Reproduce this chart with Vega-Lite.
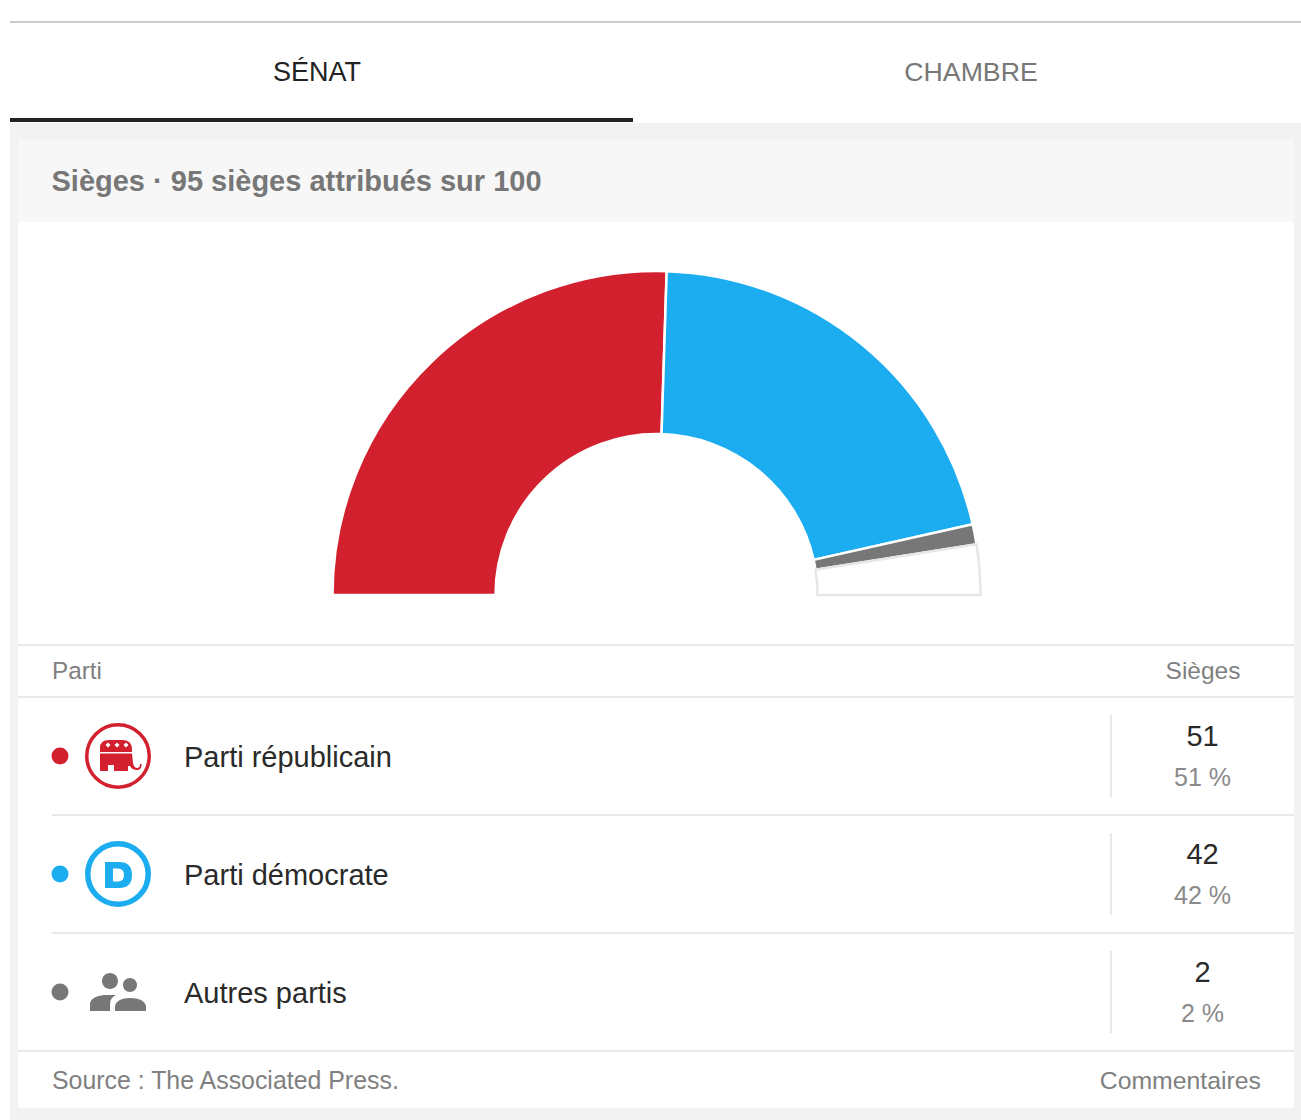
{"$schema":"https://vega.github.io/schema/vega-lite/v6.json","width":1301,"height":1120,"padding":0,"autosize":{"type":"none"},"background":"#ffffff","view":{"stroke":null},
"config":{"text":{"font":"Liberation Sans","baseline":"middle"}},
"datasets":{"parties":[
{"party":"Parti républicain","seats":51,"percent":"51 %","rank":1},
{"party":"Parti démocrate","seats":42,"percent":"42 %","rank":2},
{"party":"Autres partis","seats":2,"percent":"2 %","rank":3},
{"party":"Non attribués","seats":5,"percent":"5 %","rank":4}],
"one":[{"id":1}]},
"data":{"name":"parties"},
"layer":[
{"data":{"name":"one"},"mark":{"type":"rect","fill":"#f2f2f2"},"encoding":{"x":{"value":10},"x2":{"value":1301},"y":{"value":123},"y2":{"value":1120}}},
{"data":{"name":"one"},"mark":{"type":"rect","fill":"#ffffff"},"encoding":{"x":{"value":18},"x2":{"value":1294},"y":{"value":140},"y2":{"value":1108}}},
{"data":{"name":"one"},"mark":{"type":"rect","fill":"#f7f7f7"},"encoding":{"x":{"value":18},"x2":{"value":1294},"y":{"value":140},"y2":{"value":222}}},
{"data":{"name":"one"},"mark":{"type":"rule","stroke":"#cccccc","strokeWidth":2},"encoding":{"x":{"value":10},"x2":{"value":1301},"y":{"value":22}}},
{"data":{"name":"one"},"mark":{"type":"rule","stroke":"#222222","strokeWidth":4},"encoding":{"x":{"value":10},"x2":{"value":633},"y":{"value":120}}},
{"data":{"name":"one"},"mark":{"type":"rule","stroke":"#e8e8e8","strokeWidth":2},"encoding":{"x":{"value":18},"x2":{"value":1294},"y":{"value":645}}},
{"data":{"name":"one"},"mark":{"type":"rule","stroke":"#e8e8e8","strokeWidth":2},"encoding":{"x":{"value":18},"x2":{"value":1294},"y":{"value":697}}},
{"data":{"name":"one"},"mark":{"type":"rule","stroke":"#e8e8e8","strokeWidth":2},"encoding":{"x":{"value":52},"x2":{"value":1294},"y":{"value":815}}},
{"data":{"name":"one"},"mark":{"type":"rule","stroke":"#e8e8e8","strokeWidth":2},"encoding":{"x":{"value":52},"x2":{"value":1294},"y":{"value":933}}},
{"data":{"name":"one"},"mark":{"type":"rule","stroke":"#e8e8e8","strokeWidth":2},"encoding":{"x":{"value":18},"x2":{"value":1294},"y":{"value":1051}}},
{"data":{"name":"one"},"mark":{"type":"text","text":"SÉNAT","fontSize":27,"align":"center","fill":"#222222"},"encoding":{"x":{"value":317},"y":{"value":73}}},
{"data":{"name":"one"},"mark":{"type":"text","text":"CHAMBRE","fontSize":26.7,"align":"center","fill":"#777777"},"encoding":{"x":{"value":971},"y":{"value":73}}},
{"data":{"name":"one"},"mark":{"type":"text","text":"Sièges · 95 sièges attribués sur 100","fontSize":29,"fontWeight":"bold","align":"left","fill":"#777777"},"encoding":{"x":{"value":51.5},"y":{"value":182}}},
{"data":{"name":"one"},"mark":{"type":"text","text":"Parti","fontSize":24.3,"align":"left","fill":"#808080"},"encoding":{"x":{"value":52},"y":{"value":672}}},
{"data":{"name":"one"},"mark":{"type":"text","text":"Sièges","fontSize":24.5,"align":"center","fill":"#808080"},"encoding":{"x":{"value":1203},"y":{"value":672}}},
{"data":{"name":"one"},"mark":{"type":"text","text":"Source : The Associated Press.","fontSize":24.9,"align":"left","fill":"#808080"},"encoding":{"x":{"value":52},"y":{"value":1082}}},
{"data":{"name":"one"},"mark":{"type":"text","text":"Commentaires","fontSize":24.8,"align":"right","fill":"#808080"},"encoding":{"x":{"value":1261},"y":{"value":1082}}},
{"mark":{"type":"arc","radius":324,"radius2":161,"strokeWidth":2.5},
 "encoding":{"x":{"value":656.5},"y":{"value":595},
 "theta":{"field":"seats","type":"quantitative","stack":true,"scale":{"domain":[0,100],"range":[-1.5708,1.5708]}},
 "order":{"field":"rank"},
 "color":{"field":"party","type":"nominal","legend":null,"scale":{"domain":["Parti républicain","Parti démocrate","Autres partis","Non attribués"],"range":["#d3202e","#1cadf0","#777777","#ffffff"]}},
 "stroke":{"field":"party","type":"nominal","legend":null,"scale":{"domain":["Parti républicain","Parti démocrate","Autres partis","Non attribués"],"range":["#ffffff","#ffffff","#ffffff","#e6e6e6"]}}}},
{"transform":[{"filter":"datum.rank < 4"}],"mark":{"type":"point","filled":true,"size":289,"shape":"circle","opacity":1},
 "encoding":{"x":{"value":60},"y":{"field":"party","type":"nominal","axis":null,"scale":{"type":"point","padding":0,"domain":["Parti républicain","Parti démocrate","Autres partis"],"range":[756,992]}},"color":{"field":"party","type":"nominal","legend":null}}},
{"transform":[{"filter":"datum.rank == 1"}],"mark":{"type":"point","filled":false,"size":3906,"shape":"circle","strokeWidth":3.5,"opacity":1,"stroke":"#d3202e"},
 "encoding":{"x":{"value":118},"y":{"field":"party","type":"nominal"}}},
{"transform":[{"filter":"datum.rank == 2"}],"mark":{"type":"point","filled":false,"size":3660,"shape":"circle","strokeWidth":5.5,"opacity":1,"stroke":"#1cadf0"},
 "encoding":{"x":{"value":118},"y":{"field":"party","type":"nominal"}}},
{"transform":[{"filter":"datum.rank < 4"}],"mark":{"type":"point","filled":true,"size":4,"opacity":1,"strokeWidth":0},
 "encoding":{"x":{"value":118},"y":{"field":"party","type":"nominal"},"color":{"field":"party","type":"nominal"},
 "shape":{"field":"party","type":"nominal","legend":null,"scale":{"domain":["Parti républicain","Parti démocrate","Autres partis"],"range":[
 "M-18,-4 L-18,-8 Q-18,-16 -9,-16 L5,-16 Q14,-16 14,-6 L14,-4 Z M-10,-13.5 L-12.5,-11 L-10,-8.5 L-7.5,-11 Z M-1,-13.5 L-3.5,-11 L-1,-8.5 L1.5,-11 Z M8,-13.5 L5.5,-11 L8,-8.5 L10.5,-11 Z M-18,-2.5 L14,-2.5 L15,7 Q16,12 19,12 Q22,12 22,8 L23.5,8 Q24,14 19,14 Q14,14 12,10 L10,10 L10,15 L-4,15 L-4,9 L-10,9 L-10,15 L-18,15 Z",
 "M-13,-12 L1,-12 Q14,-12 14,1 Q14,14 1,14 L-13,14 Z M-5,-5.5 L-5,7.5 L0,7.5 Q6,7.5 6,1 Q6,-5.5 0,-5.5 Z",
 "M-16,-11 A8,8 0 1,1 0,-11 A8,8 0 1,1 -16,-11 Z M5,-7 A7,7 0 1,1 19,-7 A7,7 0 1,1 5,-7 Z M-28,19 L-28,11 Q-26,4 -14,3 L-2,3 Q-8,6 -8,12 L-8,19 Z M-3,19 L-3,14 Q-1,6 12,6 Q26,6 28,14 L28,19 Z"]}}}},
{"transform":[{"filter":"datum.rank < 4"}],"mark":{"type":"text","fontSize":29,"align":"left","fill":"#2a2a2a","dy":1.5},
 "encoding":{"x":{"value":184},"y":{"field":"party","type":"nominal"},"text":{"field":"party","type":"nominal"}}},
{"transform":[{"filter":"datum.rank < 4"}],"mark":{"type":"tick","orient":"vertical","size":82,"thickness":2,"color":"#e8e8e8","opacity":1},
 "encoding":{"x":{"value":1111},"y":{"field":"party","type":"nominal"}}},
{"transform":[{"filter":"datum.rank < 4"}],"mark":{"type":"text","fontSize":29,"align":"center","dy":-19,"fill":"#2a2a2a"},
 "encoding":{"x":{"value":1202.5},"y":{"field":"party","type":"nominal"},"text":{"field":"seats","type":"quantitative"}}},
{"transform":[{"filter":"datum.rank < 4"}],"mark":{"type":"text","fontSize":25,"align":"center","dy":22,"fill":"#8a8a8a"},
 "encoding":{"x":{"value":1202.5},"y":{"field":"party","type":"nominal"},"text":{"field":"percent","type":"nominal"}}}
]}
